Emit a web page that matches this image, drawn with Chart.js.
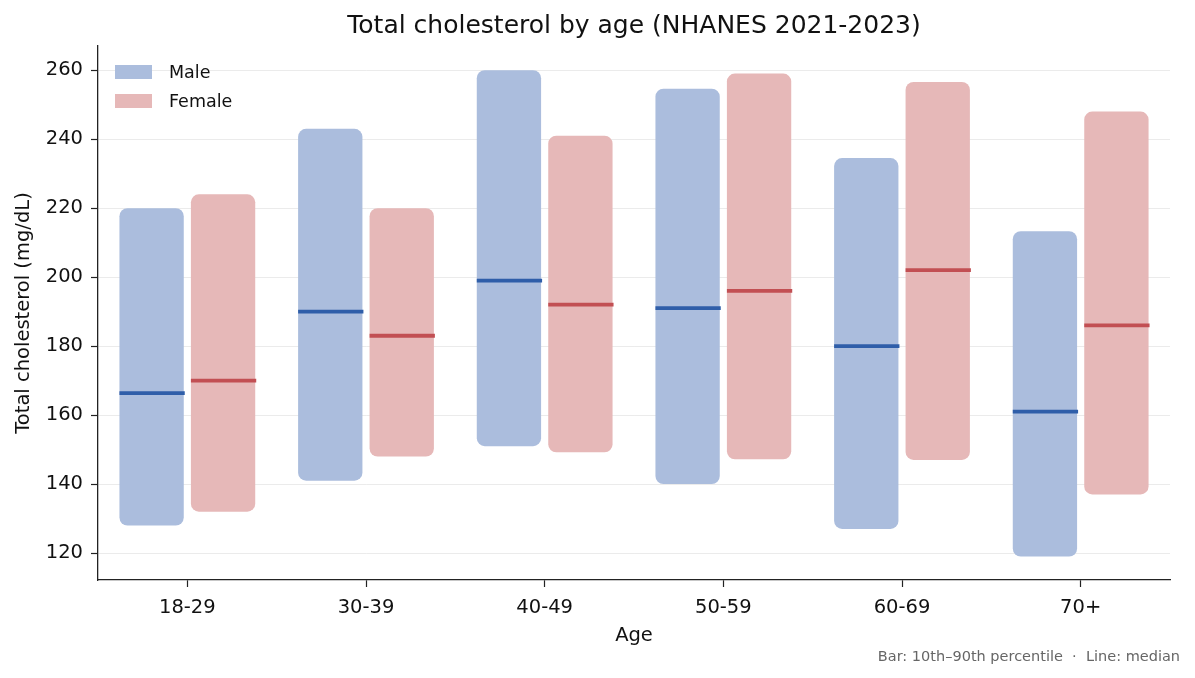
<!DOCTYPE html>
<html lang="en">
<head>
    <meta charset="UTF-8">
    <title>Total cholesterol by age</title>
    <script src="https://cdn.jsdelivr.net/npm/chart.js"></script>
    <style>
        body {
            margin: 0;
            padding: 0;
            background: #fff;
            font-family: "DejaVu Sans", sans-serif;
        }
        .wrap {
            position: relative;
            width: 1195px;
            height: 678px;
        }
        #leyenda {
            position: absolute;
            left: 115px;
            top: 58px;
            font-size: 17.5px;
            color: #111;
        }
        .item {
            display: flex;
            align-items: center;
            height: 28.5px;
        }
        .caja {
            width: 37px;
            height: 14px;
            margin-right: 17px;
        }
        #nota {
            position: absolute;
            right: 15px;
            top: 647px;
            font-size: 14.5px;
            line-height: 18px;
            color: #666;
            white-space: pre;
        }
    </style>
</head>
<body>
<div class="wrap">
    <canvas id="grafica" width="1195" height="678"></canvas>
    <div id="leyenda"></div> <!-- leyenda dentro del área -->
    <div id="nota">Bar: 10th–90th percentile  ·  Line: median</div>
</div>

<script>
    // datos
    const ageGroups = ['18-29', '30-39', '40-49', '50-59', '60-69', '70+'];
    const maleP10 = [128, 141, 151, 140, 127, 119];
    const maleP90 = [220, 243, 260, 254.6, 234.5, 213.3];
    const maleMedian = [166.4, 190, 199, 191, 180, 161];
    const femaleP10 = [132, 148, 149.2, 147.2, 147, 137];
    const femaleP90 = [224, 220, 241, 259, 256.6, 248];
    const femaleMedian = [170, 183, 192, 196, 202, 186];
    const yTicks = [120, 140, 160, 180, 200, 220, 240, 260];

    const series = [
        { label: 'Male', low: maleP10, high: maleP90, med: maleMedian, fill: '#abbddd', line: '#2f5ea9' },
        { label: 'Female', low: femaleP10, high: femaleP90, med: femaleMedian, fill: '#e6b8b8', line: '#c24f53' }
    ];

    const fuente = { family: 'DejaVu Sans', size: 19.5 };

    // líneas de mediana encima de cada barra
    const medianPlugin = {
        id: 'medianas',
        afterDatasetsDraw(chart) {
            const ctx = chart.ctx;
            const y = chart.scales.y;
            chart.data.datasets.forEach((ds, d) => {
                const meta = chart.getDatasetMeta(d);
                meta.data.forEach((bar, i) => {
                    const p = bar.getProps(['x', 'width'], true);
                    const py = y.getPixelForValue(ds.medians[i]);
                    ctx.save();
                    ctx.strokeStyle = ds.medianColor;
                    ctx.lineWidth = 3.8;
                    ctx.beginPath();
                    ctx.moveTo(p.x - p.width / 2, py);
                    ctx.lineTo(p.x + p.width / 2 + 1, py);
                    ctx.stroke();
                    ctx.restore();
                });
            });
        }
    };

    const ctx = document.getElementById('grafica').getContext('2d');
    const chart = new Chart(ctx, {
        type: 'bar',
        data: {
            labels: ageGroups,
            datasets: series.map(s => ({
                label: s.label,
                data: ageGroups.map((_, i) => [s.low[i], s.high[i]]),
                backgroundColor: s.fill,
                borderWidth: 0,
                borderRadius: 8,
                borderSkipped: false,
                medians: s.med,
                medianColor: s.line
            }))
        },
        options: {
            responsive: false,
            animation: false,
            layout: { padding: { left: 0, right: 25, top: 0, bottom: 0 } },
            plugins: {
                legend: { display: false },
                tooltip: { enabled: false },
                title: {
                    display: true,
                    text: 'Total cholesterol by age (NHANES 2021-2023)',
                    fullSize: false,
                    color: '#111',
                    font: { family: 'DejaVu Sans', size: 25, weight: 'normal' },
                    padding: { top: 11, bottom: 5 }
                }
            },
            scales: {
                x: {
                    grid: { display: true, drawOnChartArea: false, offset: false, tickLength: 7, tickColor: '#222', tickWidth: 1.2 },
                    border: { color: '#222', width: 1.3 },
                    ticks: { color: '#111', font: fuente, padding: 9 },
                    title: { display: true, text: 'Age', color: '#111', font: fuente, padding: { top: 4, bottom: 30 } },
                    afterFit: s => { s.height = 98; }
                },
                y: {
                    min: 112.2,
                    max: 267,
                    grid: { color: '#ebebeb', lineWidth: 1, tickLength: 7, tickColor: '#222', tickWidth: 1.2 },
                    border: { color: '#222', width: 1.3 },
                    afterBuildTicks: s => { s.ticks = yTicks.map(v => ({ value: v })); },
                    ticks: { color: '#111', font: fuente, padding: 8 },
                    title: { display: true, text: 'Total cholesterol (mg/dL)', color: '#111', font: fuente, padding: { top: 12, bottom: 6 } },
                    afterFit: s => { s.width = 98; }
                }
            }
        },
        plugins: [medianPlugin]
    });

    // leyenda en HTML a partir de las series
    const leyenda = document.getElementById('leyenda');
    series.forEach(s => {
        const fila = document.createElement('div');
        fila.className = 'item';
        fila.innerHTML = `<span class="caja" style="background:${s.fill}"></span><span>${s.label}</span>`;
        leyenda.appendChild(fila);
    });
</script>
</body>
</html>
